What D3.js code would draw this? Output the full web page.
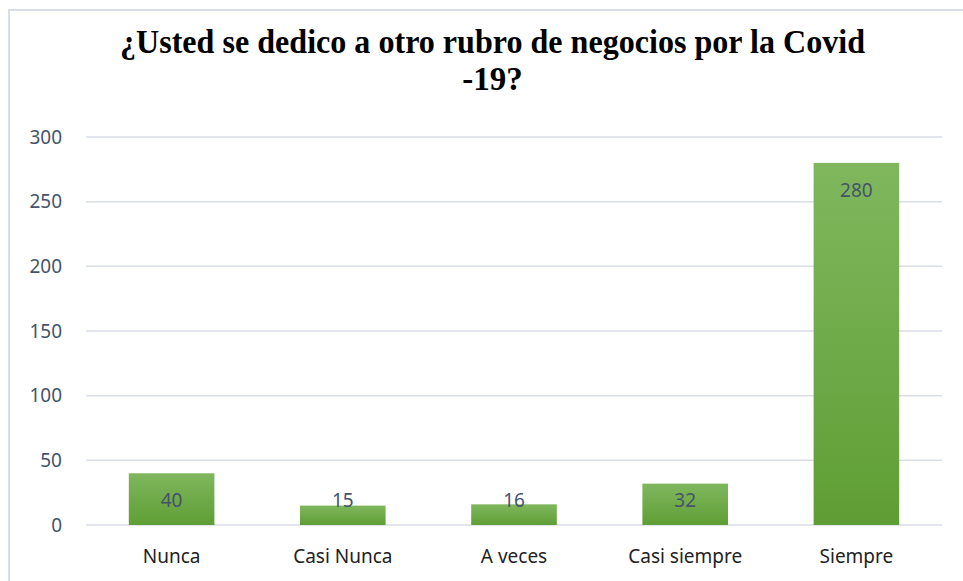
<!DOCTYPE html>
<html>
<head>
<meta charset="utf-8">
<script src="https://cdn.jsdelivr.net/npm/d3@7"></script>
<style>
  body { margin: 0; background: #fff; }
  svg { display: block; }
</style>
</head>
<body>
<div id="chart"></div>
<script>
// Chart data
const categories = ["Nunca", "Casi Nunca", "A veces", "Casi siempre", "Siempre"];
const values = [40, 15, 16, 32, 280];
const yTicks = [0, 50, 100, 150, 200, 250, 300];
const titleLines = ["¿Usted se dedico a otro rubro de negocios por la Covid", "-19?"];

const width = 963;
const height = 581;
const margin = { top: 137, right: 21, bottom: 56, left: 86 };

const svg = d3
  .select("#chart")
  .append("svg")
  .attr("width", width)
  .attr("height", height);

// gradient fill for bars
const grad = svg
  .append("defs")
  .append("linearGradient")
  .attr("id", "barGrad")
  .attr("x1", 0)
  .attr("y1", 0)
  .attr("x2", 0)
  .attr("y2", 1);
grad.append("stop").attr("offset", "0%").attr("stop-color", "#80b75e");
grad.append("stop").attr("offset", "100%").attr("stop-color", "#5f9e34");

// chart frame (only left and top edges are visible in the crop)
svg
  .append("path")
  .attr("d", `M9,${height} V10 H${width}`)
  .attr("fill", "none")
  .attr("stroke", "#d9dde5")
  .attr("stroke-width", 2);

const x = d3
  .scaleBand()
  .domain(categories)
  .range([margin.left, width - margin.right])
  .paddingInner(0.5)
  .paddingOuter(0.25);

const y = d3
  .scaleLinear()
  .domain([0, 300])
  .range([height - margin.bottom, margin.top]);

// gridlines
svg
  .append("g")
  .selectAll("line")
  .data(yTicks)
  .join("line")
  .attr("x1", margin.left)
  .attr("x2", width - margin.right)
  .attr("y1", (d) => y(d))
  .attr("y2", (d) => y(d))
  .attr("stroke", "#d9dde6")
  .attr("stroke-width", 1.5);

// y axis labels
const yAxis = svg
  .append("g")
  .attr("transform", `translate(${margin.left - 10},0)`)
  .call(d3.axisLeft(y).tickValues(yTicks).tickSize(0).tickPadding(14));
yAxis.select(".domain").remove();
yAxis
  .selectAll("text")
  .attr("font-family", "Noto Sans, sans-serif")
  .attr("font-size", 19)
  .attr("fill", "#44546a");

// bars
svg
  .append("g")
  .selectAll("rect")
  .data(values)
  .join("rect")
  .attr("x", (d, i) => x(categories[i]))
  .attr("y", (d) => y(d))
  .attr("width", x.bandwidth())
  .attr("height", (d) => y(0) - y(d))
  .attr("fill", "url(#barGrad)");

// data labels
svg
  .append("g")
  .selectAll("text")
  .data(values)
  .join("text")
  .attr("x", (d, i) => x(categories[i]) + x.bandwidth() / 2)
  .attr("y", (d) => Math.min(y(d) + 27, y(0) - 25))
  .attr("dy", "0.35em")
  .attr("text-anchor", "middle")
  .attr("font-family", "Noto Sans, sans-serif")
  .attr("font-size", 19)
  .attr("fill", "#44546a")
  .text((d) => d);

// x axis labels
const xAxis = svg
  .append("g")
  .attr("transform", `translate(0,${y(0)})`)
  .call(d3.axisBottom(x).tickSize(0).tickPadding(25));
xAxis.select(".domain").remove();
xAxis
  .selectAll("text")
  .attr("font-family", "Noto Sans, sans-serif")
  .attr("font-size", 19)
  .attr("fill", "#222");

// title, slightly condensed like the original
svg
  .append("g")
  .selectAll("text")
  .data(titleLines)
  .join("text")
  .attr("x", 492.5)
  .attr("y", (d, i) => 53 + i * 37)
  .attr("text-anchor", "middle")
  .attr("font-family", "Liberation Serif, Times New Roman, serif")
  .attr("font-weight", "bold")
  .attr("font-size", 33)
  .attr("fill", "#000")
  .each(function (d, i) {
    const t = d3.select(this).text(d);
    if (i === 0) t.attr("textLength", 745).attr("lengthAdjust", "spacingAndGlyphs");
  });
</script>
</body>
</html>
